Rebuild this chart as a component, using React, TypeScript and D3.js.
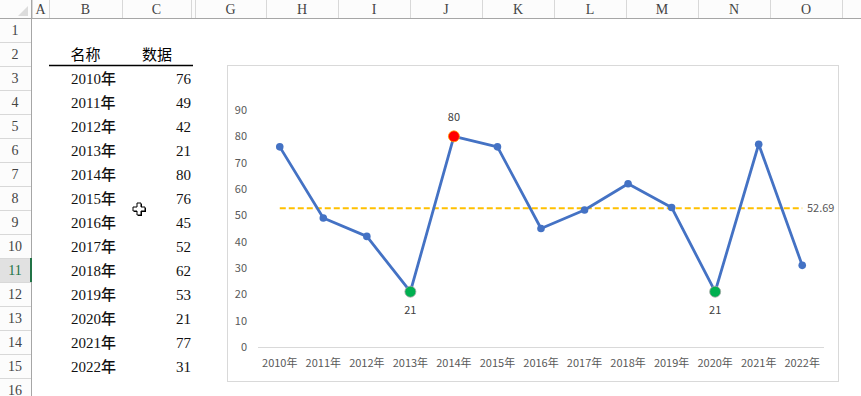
import React from 'react';
import * as d3 from 'd3';

// chart data
const categories = ['2010年', '2011年', '2012年', '2013年', '2014年', '2015年', '2016年', '2017年', '2018年', '2019年', '2020年', '2021年', '2022年'];
const values = [76, 49, 42, 21, 80, 76, 45, 52, 62, 53, 21, 77, 31];
const yTicks = [0, 10, 20, 30, 40, 50, 60, 70, 80, 90];

// sheet headers
const colLetters = ['A', 'B', 'C', 'G', 'H', 'I', 'J', 'K', 'L', 'M', 'N', 'O'];
const colEdges = [32, 49, 122, 191, 195, 266, 338, 410, 482, 554, 626, 698, 770, 842];
const rowNumbers = d3.range(1, 17);
const tableHeader = ['名称', '数据'];

const W = 861;
const H = 396;
const headerH = 18;
const rowH = 24;
const rowHeadW = 32;
const selectedRow = 11;

const serif = '"Liberation Serif", "DejaVu Serif", "Noto Sans CJK SC", serif';
const sans = '"Noto Sans CJK SC", "Noto Sans", sans-serif';

const App = () => {
  const avg = d3.mean(values) as number;
  const maxV = d3.max(values) as number;
  const minV = d3.min(values) as number;

  const x = d3.scaleBand().domain(categories).range([258, 824]);
  const y = d3.scaleLinear().domain([0, 90]).range([347, 110]);
  const cx = (c: string) => (x(c) as number) + x.bandwidth() / 2;

  const line = d3
    .line<number>()
    .x((d, i) => cx(categories[i]))
    .y(d => y(d));

  // column spans for the letters (skip the hidden gap)
  const colSpans: [number, number][] = [];
  for (let i = 0; i < colEdges.length - 1; i++) {
    if (colEdges[i] === 191) continue;
    colSpans.push([colEdges[i], colEdges[i + 1]]);
  }

  const rowY = (r: number) => headerH + (r - 1) * rowH;

  return (
    <svg
      width={W}
      height={H}
      style={{ position: 'absolute', left: 0, top: 0, display: 'block', background: '#fff' }}
    >
      {/* column header */}
      <rect x={0} y={0} width={W} height={headerH} fill="#fcfcfc" />
      <path d="M18,16 L28,16 L28,6 Z" fill="#dcdcdc" />
      {colEdges.map(e => (
        <line key={'ce' + e} x1={e + 0.5} x2={e + 0.5} y1={0} y2={headerH} stroke="#d8d8d8" />
      ))}
      {colLetters.map((c, i) => (
        <text
          key={c}
          x={(colSpans[i][0] + colSpans[i][1]) / 2}
          y={14}
          textAnchor="middle"
          fontFamily={serif}
          fontSize={14}
          fill="#444"
        >
          {c}
        </text>
      ))}
      <line x1={0} x2={W} y1={headerH + 0.5} y2={headerH + 0.5} stroke="#a6a6a6" />

      {/* row header */}
      <rect x={0} y={headerH + 1} width={rowHeadW} height={H} fill="#fcfcfc" />
      <rect x={0} y={rowY(selectedRow)} width={rowHeadW} height={rowH} fill="#e1e1e1" />
      {rowNumbers.map(r => (
        <g key={'r' + r}>
          <line x1={0} x2={rowHeadW} y1={rowY(r) + rowH + 0.5} y2={rowY(r) + rowH + 0.5} stroke="#d8d8d8" />
          <text
            x={15}
            y={rowY(r) + 17}
            textAnchor="middle"
            fontFamily={serif}
            fontSize={14}
            fill={r === selectedRow ? '#217346' : '#444'}
          >
            {r}
          </text>
        </g>
      ))}
      <line x1={rowHeadW - 0.5} x2={rowHeadW - 0.5} y1={0} y2={H} stroke="#a6a6a6" />
      <rect x={rowHeadW - 2} y={rowY(selectedRow)} width={2} height={rowH} fill="#217346" />

      {/* table */}
      <text x={85.5} y={rowY(2) + 18} textAnchor="middle" fontFamily={serif} fontSize={15} fill="#000">
        {tableHeader[0]}
      </text>
      <text x={157} y={rowY(2) + 18} textAnchor="middle" fontFamily={serif} fontSize={15} fill="#000">
        {tableHeader[1]}
      </text>
      <line x1={49} x2={193} y1={rowY(3) - 0.5} y2={rowY(3) - 0.5} stroke="#000" strokeWidth={1.3} />
      {categories.map((c, i) => (
        <g key={'t' + c}>
          <text x={71} y={rowY(i + 3) + 18} fontFamily={serif} fontSize={15} fontWeight={500} fill="#111">
            {c}
          </text>
          <text x={191} y={rowY(i + 3) + 18} textAnchor="end" fontFamily={serif} fontSize={15} fontWeight={500} fill="#111">
            {values[i]}
          </text>
        </g>
      ))}

      {/* cell cursor */}
      <path
        d="M137,203 h4 v4 h4 v4 h-4 v4 h-4 v-4 h-4 v-4 h4 Z"
        fill="#000"
        transform="translate(1,1)"
      />
      <path d="M137,203 h4 v4 h4 v4 h-4 v4 h-4 v-4 h-4 v-4 h4 Z" fill="#fff" stroke="#000" strokeWidth={1} />

      {/* chart */}
      <rect x={227.5} y={65.5} width={611} height={316} fill="#fff" stroke="#d9d9d9" />
      {yTicks.map(t => (
        <text key={'yt' + t} x={247} y={y(t) + 4} textAnchor="end" fontFamily={sans} fontSize={11} fill="#595959">
          {t}
        </text>
      ))}
      <line x1={258} x2={824} y1={y(0) + 0.5} y2={y(0) + 0.5} stroke="#d9d9d9" />
      {categories.map(c => (
        <text key={'xl' + c} x={cx(c)} y={367} textAnchor="middle" fontFamily={sans} fontSize={11} fill="#595959">
          {c}
        </text>
      ))}

      <line
        x1={cx(categories[0])}
        x2={cx(categories[categories.length - 1])}
        y1={y(avg)}
        y2={y(avg)}
        stroke="#FFC000"
        strokeWidth={1.8}
        strokeDasharray="6 3"
      />
      <text x={807} y={y(avg) + 4} fontFamily={sans} fontSize={11} fill="#595959">
        {avg.toFixed(2)}
      </text>

      <path d={line(values) as string} fill="none" stroke="#4472C4" strokeWidth={2.8} strokeLinejoin="round" />
      {values.map((v, i) => {
        const px = cx(categories[i]);
        if (v === maxV) {
          return (
            <g key={'m' + i}>
              <circle cx={px} cy={y(v)} r={5.5} fill="#FF0000" stroke="#FFA000" strokeWidth={0.8} />
              <text x={px} y={y(v) - 15} textAnchor="middle" fontFamily={sans} fontSize={11} fill="#404040">
                {v}
              </text>
            </g>
          );
        }
        if (v === minV) {
          return (
            <g key={'m' + i}>
              <circle cx={px} cy={y(v)} r={5.5} fill="#00B050" stroke="#a5a5a5" strokeWidth={0.8} />
              <text x={px} y={y(v) + 22} textAnchor="middle" fontFamily={sans} fontSize={11} fill="#404040">
                {v}
              </text>
            </g>
          );
        }
        return <circle key={'m' + i} cx={px} cy={y(v)} r={3.8} fill="#4472C4" />;
      })}
    </svg>
  );
};

export default App;
